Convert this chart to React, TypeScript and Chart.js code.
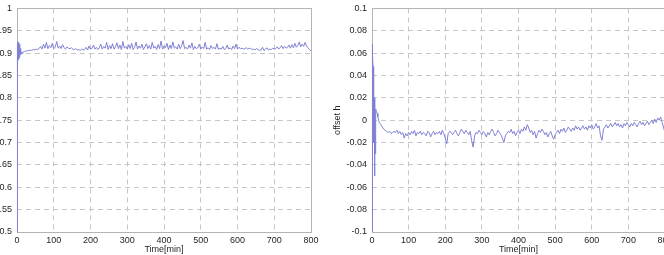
import React, { useEffect, useRef } from "react";
import { Chart, registerables } from "chart.js";

Chart.register(...registerables);

// Early transient sample times (minutes)
const EARLY_T = [0, 0.5, 1, 1.5, 2, 3, 4, 5, 6, 7, 8, 9, 10, 12, 14, 16, 18, 20];
// Steady part sampled every 4 min from t = 24 to t = 800
const STEADY_START = 24;
const STEADY_STEP = 4;

const LEFT_EARLY = [0.5, 0.88, 0.86, 0.92, 0.87, 0.925, 0.885, 0.915, 0.89, 0.92, 0.895, 0.91, 0.897, 0.903, 0.899, 0.902, 0.903, 0.904];
const LEFT_STEADY = [
  0.904, 0.906, 0.905, 0.907, 0.906, 0.908, 0.907, 0.909, 0.908, 0.910,
  0.915, 0.909, 0.920, 0.911, 0.924, 0.910, 0.917, 0.912, 0.922, 0.910,
  0.913, 0.926, 0.911, 0.916, 0.910, 0.919, 0.912, 0.909, 0.914, 0.911,
  0.910, 0.912, 0.909, 0.908, 0.910, 0.907, 0.908, 0.906, 0.909, 0.907,
  0.908, 0.913, 0.907, 0.916, 0.909, 0.911, 0.918, 0.909, 0.913, 0.908,
  0.912, 0.920, 0.909, 0.915, 0.911, 0.924, 0.908, 0.917, 0.910, 0.921,
  0.909, 0.914, 0.923, 0.910, 0.918, 0.908, 0.926, 0.911, 0.915, 0.909,
  0.919, 0.910, 0.922, 0.908, 0.913, 0.925, 0.909, 0.916, 0.911, 0.920,
  0.908, 0.914, 0.921, 0.910, 0.917, 0.909, 0.924, 0.911, 0.915, 0.908,
  0.919, 0.910, 0.927, 0.909, 0.916, 0.912, 0.922, 0.908, 0.918, 0.910,
  0.925, 0.911, 0.914, 0.909, 0.920, 0.910, 0.916, 0.928, 0.910, 0.913,
  0.909, 0.918, 0.911, 0.923, 0.908, 0.915, 0.910, 0.912, 0.920, 0.909,
  0.914, 0.910, 0.924, 0.909, 0.912, 0.908, 0.917, 0.910, 0.913, 0.909,
  0.921, 0.908, 0.911, 0.909, 0.915, 0.908, 0.910, 0.918, 0.909, 0.912,
  0.908, 0.916, 0.910, 0.920, 0.909, 0.913, 0.910, 0.911, 0.909, 0.910,
  0.912, 0.909, 0.911, 0.910, 0.908, 0.909, 0.907, 0.910, 0.908, 0.906,
  0.907, 0.913, 0.906, 0.908, 0.912, 0.907, 0.909, 0.908, 0.911, 0.909,
  0.910, 0.914, 0.909, 0.912, 0.917, 0.910, 0.915, 0.911, 0.913, 0.918,
  0.911, 0.919, 0.912, 0.922, 0.913, 0.917, 0.925, 0.914, 0.920, 0.915,
  0.924, 0.916, 0.912, 0.908, 0.905,
];

const RIGHT_EARLY = [-0.1, 0.068, 0.064, 0.0, 0.06, 0.045, 0.048, -0.02, 0.02, -0.05, 0.015, -0.03, 0.01, 0.008, 0.006, 0.003, 0.0, -0.002];
const RIGHT_STEADY = [
  -0.004, -0.006, -0.008, -0.009, -0.010, -0.011, -0.010, -0.012, -0.011, -0.010,
  -0.011, -0.009, -0.012, -0.010, -0.013, -0.011, -0.016, -0.012, -0.014, -0.011,
  -0.013, -0.010, -0.012, -0.009, -0.014, -0.011, -0.012, -0.010, -0.013, -0.011,
  -0.012, -0.014, -0.010, -0.011, -0.015, -0.012, -0.010, -0.013, -0.011, -0.012,
  -0.010, -0.013, -0.009, -0.012, -0.016, -0.021, -0.012, -0.010, -0.011, -0.013,
  -0.011, -0.009, -0.012, -0.014, -0.011, -0.008, -0.010, -0.012, -0.009, -0.011,
  -0.013, -0.010, -0.018, -0.024, -0.014, -0.011, -0.012, -0.009, -0.011, -0.013,
  -0.010, -0.012, -0.015, -0.011, -0.013, -0.010, -0.008, -0.011, -0.014, -0.012,
  -0.009, -0.011, -0.013, -0.016, -0.020, -0.014, -0.012, -0.010, -0.011, -0.008,
  -0.012, -0.010, -0.014, -0.011, -0.009, -0.012, -0.008, -0.010, -0.006, -0.009,
  -0.004, -0.007, -0.011, -0.009, -0.013, -0.010, -0.016, -0.012, -0.009, -0.011,
  -0.008, -0.010, -0.013, -0.011, -0.015, -0.012, -0.010, -0.014, -0.017, -0.013,
  -0.011, -0.009, -0.012, -0.008, -0.010, -0.007, -0.011, -0.009, -0.006, -0.008,
  -0.010, -0.007, -0.009, -0.005, -0.008, -0.006, -0.009, -0.007, -0.005, -0.008,
  -0.006, -0.009, -0.005, -0.007, -0.004, -0.008, -0.006, -0.003, -0.007, -0.005,
  -0.014, -0.018, -0.008, -0.006, -0.004, -0.007, -0.005, -0.003, -0.006, -0.004,
  -0.002, -0.005, -0.003, -0.006, -0.004, -0.007, -0.003, -0.005, -0.002, -0.004,
  -0.006, -0.003, -0.005, -0.002, -0.004, -0.006, -0.003, -0.001, -0.004, -0.002,
  -0.005, -0.003, -0.001, -0.004, -0.002, 0.000, -0.003, 0.001, -0.002, 0.002,
  0.000, 0.003, -0.002, -0.006, -0.012,
];

const X_TICK_STEP = 100;
const X_MAX = 800;
const LEFT_Y = { min: 0.5, max: 1, step: 0.05 };
const RIGHT_Y = { min: -0.1, max: 0.1, step: 0.02 };
const X_TITLE = "Time[min]";
const RIGHT_Y_TITLE = "offset h";

const FONT = "'Liberation Sans', Arial, Helvetica, sans-serif";
const LINE_COLOR = "rgb(128,128,212)";
const GRID_COLOR = "#c6c6c6";
const BOX_COLOR = "#b4b4b4";
const TEXT_COLOR = "#1e1e1e";

function buildPoints(early: number[], steady: number[]) {
  const pts = early.map((y, i) => ({ x: EARLY_T[i], y }));
  steady.forEach((y, i) => pts.push({ x: STEADY_START + STEADY_STEP * i, y }));
  return pts;
}

const boxPlugin = {
  id: "box",
  beforeDatasetsDraw(chart: any) {
    const { ctx, chartArea } = chart;
    ctx.save();
    ctx.strokeStyle = BOX_COLOR;
    ctx.lineWidth = 1;
    ctx.setLineDash([]);
    ctx.strokeRect(
      Math.round(chartArea.left) + 0.5,
      Math.round(chartArea.top) + 0.5,
      Math.round(chartArea.right - chartArea.left),
      Math.round(chartArea.bottom - chartArea.top)
    );
    ctx.restore();
  },
};

function fmt(v: number) {
  return String(Number(v.toFixed(3)));
}

interface PanelProps {
  left: number;
  top: number;
  width: number;
  height: number;
  yAxisWidth: number;
  rightPad: number;
  xAxisHeight: number;
  points: { x: number; y: number }[];
  yRange: { min: number; max: number; step: number };
  yTitle?: string;
}

function Panel(props: PanelProps) {
  const ref = useRef<HTMLCanvasElement | null>(null);
  useEffect(() => {
    if (!ref.current) return;
    const chart = new Chart(ref.current, {
      type: "line",
      data: {
        datasets: [
          {
            data: props.points,
            borderColor: LINE_COLOR,
            borderWidth: 1,
            pointRadius: 0,
            tension: 0,
            fill: false,
            clip: 3,
          } as any,
        ],
      },
      options: {
        animation: false,
        responsive: false,
        maintainAspectRatio: false,
        parsing: false as any,
        layout: { padding: { left: 0, right: props.rightPad, top: 0, bottom: 0 } },
        plugins: { legend: { display: false }, tooltip: { enabled: false } },
        scales: {
          x: {
            type: "linear",
            min: 0,
            max: X_MAX,
            afterFit: (s: any) => {
              s.height = props.xAxisHeight;
            },
            ticks: {
              stepSize: X_TICK_STEP,
              padding: 3,
              maxRotation: 0,
              color: TEXT_COLOR,
              font: { family: FONT, size: 9 },
              callback: (v: any) => fmt(Number(v)),
            },
            grid: { color: GRID_COLOR, drawTicks: false, lineWidth: 1 },
            border: { display: false, dash: [5, 4] },
            title: {
              display: true,
              text: X_TITLE,
              color: TEXT_COLOR,
              font: { family: FONT, size: 9 },
              padding: { top: 0, bottom: 0 },
            },
          },
          y: {
            type: "linear",
            min: props.yRange.min,
            max: props.yRange.max,
            afterFit: (s: any) => {
              s.width = props.yAxisWidth;
            },
            ticks: {
              stepSize: props.yRange.step,
              padding: 5,
              color: TEXT_COLOR,
              font: { family: FONT, size: 9 },
              callback: (v: any) => fmt(Number(v)),
            },
            grid: { color: GRID_COLOR, drawTicks: false, lineWidth: 1 },
            border: { display: false, dash: [5, 4] },
            title: {
              display: !!props.yTitle,
              text: props.yTitle || "",
              color: TEXT_COLOR,
              font: { family: FONT, size: 9 },
              padding: { top: 12, bottom: 0 },
            },
          },
        },
      },
      plugins: [boxPlugin],
    });
    return () => chart.destroy();
  }, []);
  return (
    <canvas
      ref={ref}
      width={props.width}
      height={props.height}
      style={{ position: "absolute", left: props.left, top: props.top, width: props.width, height: props.height }}
    />
  );
}

export default function App() {
  const leftPts = buildPoints(LEFT_EARLY, LEFT_STEADY);
  const rightPts = buildPoints(RIGHT_EARLY, RIGHT_STEADY);
  return (
    <div
      style={{
        position: "fixed",
        left: 0,
        top: 0,
        width: 664,
        height: 255,
        overflow: "hidden",
        background: "#fff",
      }}
    >
      <Panel
        left={-23}
        top={-2}
        width={353}
        height={257}
        yAxisWidth={40}
        rightPad={19}
        xAxisHeight={23}
        points={leftPts}
        yRange={LEFT_Y}
      />
      <Panel
        left={320}
        top={-2}
        width={360}
        height={257}
        yAxisWidth={52}
        rightPad={15}
        xAxisHeight={23}
        points={rightPts}
        yRange={RIGHT_Y}
        yTitle={RIGHT_Y_TITLE}
      />
    </div>
  );
}
